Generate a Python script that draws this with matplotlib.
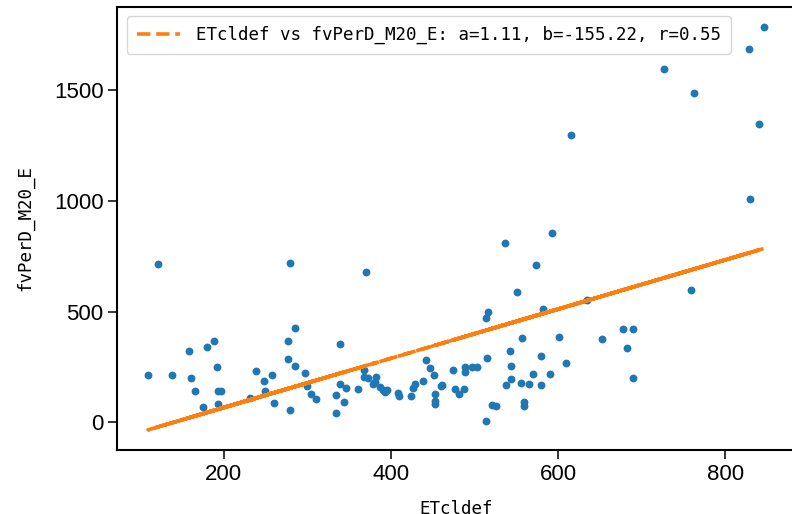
import matplotlib
matplotlib.use('Agg')
import matplotlib.pyplot as plt
import numpy as np

# values
etcldef = [845.9, 829.1, 726.9, 762.9, 839.9, 615.5, 829.6, 592.3, 536.0, 121.7,
           278.7, 369.8, 284.7, 276.3, 338.6, 187.8, 180.1, 158.5, 276.3, 285.0,
           191.6, 238.8, 296.7, 109.4, 138.2, 257.5, 160.5, 248.4, 166.1, 193.6,
           196.9, 248.8, 230.8, 299.5, 303.9, 310.7, 259.9, 174.8, 192.8, 279.8,
           334.3, 343.4, 334.7, 338.6, 346.7, 360.2, 367.3, 367.4, 372.6, 382.6,
           380.6, 378.6, 387.4, 390.5, 393.0, 395.8, 409.0, 410.1, 424.2, 426.5,
           429.4, 438.9, 442.5, 446.5, 451.3, 460.0, 452.2, 452.6, 452.6, 573.5,
           551.1, 516.4, 514.0, 634.6, 582.3, 759.3, 677.8, 689.4, 653.0, 682.6,
           690.1, 556.4, 600.7, 542.0, 514.4, 579.2, 609.8, 544.0, 569.7, 590.8,
           544.3, 555.5, 564.8, 579.6, 537.9, 474.4, 488.4, 488.4, 497.2, 502.5,
           461.2, 476.5, 481.6, 487.6, 520.4, 525.6, 559.5, 559.5, 514.0]
fvperd = [1784, 1685, 1593, 1486, 1345, 1294, 1009, 856, 811, 714,
          718, 677, 427, 369, 353, 365, 342, 322, 287, 252,
          250, 232, 223, 212, 212, 215, 198, 185, 143, 143,
          143, 140, 111, 165, 129, 104, 87, 68, 84, 56,
          122, 93, 42, 174, 156, 150, 234, 206, 200, 204,
          180, 171, 158, 147, 137, 147, 132, 117, 117, 156,
          174, 185, 281, 245, 214, 165, 129, 95, 83, 712,
          589, 499, 469, 553, 512, 595, 419, 423, 378, 337,
          198, 380, 386, 324, 291, 299, 269, 254, 218, 218,
          194, 178, 173, 170, 167, 234, 250, 225, 248, 250,
          167, 150, 128, 150, 80, 72, 90, 72, 5]
a, b, r = 1.11, -155.22, 0.55

plt.rcParams['font.family'] = 'Liberation Sans'

fig = plt.figure(figsize=(7.92, 5.14), dpi=100)
ax = fig.add_axes([117.3 / 792, 64 / 514, 677 / 792, 443.3 / 514])

x = np.array(etcldef)
y = np.array(fvperd)
ax.scatter(x, y, s=32, color='#1f77b4', linewidths=0, zorder=2)
ax.plot(x, a * x + b, '--', color='#ff7f0e', lw=2.6,
        label=f'ETcldef vs fvPerD_M20_E: a={a:.2f}, b={b:.2f}, r={r:.2f}')

ax.set_xticks([200, 400, 600, 800])
ax.set_yticks([0, 500, 1000, 1500])
ax.tick_params(labelsize=16, length=6.5, width=1.1)
for s in ax.spines.values():
    s.set_linewidth(1.5)

label_font = {'family': 'DejaVu Sans Mono', 'size': 12.6}
ax.set_xlabel('ETcldef', fontdict=label_font, labelpad=11)
ax.set_ylabel('fvPerD_M20_E', fontdict=label_font, labelpad=14)
ax.legend(loc='upper left', prop=label_font, handlelength=2.5,
          handletextpad=0.9, borderpad=0.55, borderaxespad=0.55)

fig.savefig('out.png', dpi=100)
